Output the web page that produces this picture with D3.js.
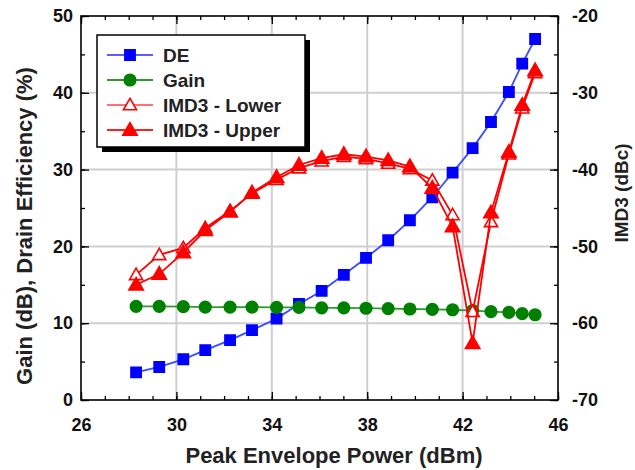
<!DOCTYPE html>
<html><head><meta charset="utf-8">
<script src="https://cdn.jsdelivr.net/npm/d3@7"></script>
<style>body{margin:0;background:#fff}svg{display:block}</style>
</head><body>
<svg id="c" width="635" height="470"></svg>
<script>
const power = [28.31, 29.28, 30.29, 31.21, 32.25, 33.17, 34.2, 35.14, 36.09, 37.02, 37.95, 38.88, 39.79, 40.73, 41.58, 42.42, 43.19, 43.94, 44.5, 45.04];
const drainEff = [3.6, 4.3, 5.3, 6.5, 7.8, 9.1, 10.6, 12.5, 14.2, 16.3, 18.5, 20.8, 23.4, 26.4, 29.6, 32.8, 36.2, 40.1, 43.8, 47.0];
const gain = [12.2, 12.2, 12.15, 12.1, 12.1, 12.1, 12.05, 12.05, 12.0, 12.0, 11.95, 11.9, 11.85, 11.8, 11.75, 11.65, 11.5, 11.4, 11.25, 11.1];
const imd3Lower = [-53.7, -51.1, -50.2, -47.6, -45.4, -43.1, -41.3, -39.8, -38.9, -38.3, -38.6, -39.2, -39.9, -41.4, -45.9, -58.5, -46.8, -38.0, -32.0, -27.4];
const imd3Upper = [-55.0, -53.6, -50.8, -47.9, -45.5, -43.0, -41.0, -39.4, -38.5, -38.0, -38.3, -38.8, -39.6, -42.4, -47.4, -62.6, -45.6, -37.7, -31.6, -27.1];
const xTicks = [26, 30, 34, 38, 42, 46];
const yLeftTicks = [0, 10, 20, 30, 40, 50];
const yRightTicks = [-20, -30, -40, -50, -60, -70];
const legendLabels = ["DE", "Gain", "IMD3 - Lower", "IMD3 - Upper"];

const svg = d3.select("#c");
const L = 81, R = 558, T = 16, B = 400;
const x = d3.scaleLinear().domain([26, 46]).range([L, R]);
const yL = d3.scaleLinear().domain([0, 50]).range([B, T]);
const yR = d3.scaleLinear().domain([-70, -20]).range([B, T]);
const font = "'Liberation Sans',Arial,sans-serif";

// gridlines
const g = svg.append("g");
g.selectAll(".gx").data(xTicks.slice(1, -1)).join("line")
  .attr("x1", d => x(d)).attr("x2", d => x(d)).attr("y1", T).attr("y2", B)
  .attr("stroke", "#cfcfcf").attr("stroke-width", 2);
g.selectAll(".gy").data(yLeftTicks.slice(1, -1)).join("line")
  .attr("y1", d => yL(d)).attr("y2", d => yL(d)).attr("x1", L).attr("x2", R)
  .attr("stroke", "#cfcfcf").attr("stroke-width", 2);

// axes with inward ticks
function styleAxis(sel) {
  sel.select(".domain").remove();
  sel.selectAll("line").attr("stroke", "#000").attr("stroke-width", 1.3);
  sel.selectAll("text").attr("font-family", font).attr("font-weight", "bold").attr("font-size", 18).attr("fill", "#111");
}
const xMinor = d3.range(26, 46.01, 1);
svg.append("g").attr("transform", `translate(0,${B})`)
  .call(d3.axisBottom(x).tickValues(xMinor).tickSize(-4).tickFormat(""))
  .call(styleAxis);
svg.append("g").attr("transform", `translate(0,${B})`)
  .call(d3.axisBottom(x).tickValues(xTicks).tickSize(-8).tickPadding(18).tickFormat(d3.format("d")))
  .call(styleAxis);
svg.append("g").attr("transform", `translate(0,${T})`)
  .call(d3.axisTop(x).tickValues(xMinor).tickSize(-4).tickFormat(""))
  .call(styleAxis);
svg.append("g").attr("transform", `translate(0,${T})`)
  .call(d3.axisTop(x).tickValues(xTicks).tickSize(-8).tickFormat(""))
  .call(styleAxis);
svg.append("g").attr("transform", `translate(${L},0)`)
  .call(d3.axisLeft(yL).tickValues(d3.range(0, 50.1, 5)).tickSize(-4).tickFormat(""))
  .call(styleAxis);
svg.append("g").attr("transform", `translate(${L},0)`)
  .call(d3.axisLeft(yL).tickValues(yLeftTicks).tickSize(-8).tickPadding(8).tickFormat(d3.format("d")))
  .call(styleAxis);
svg.append("g").attr("transform", `translate(${R},0)`)
  .call(d3.axisRight(yR).tickValues(d3.range(-70, -19.9, 5)).tickSize(-4).tickFormat(""))
  .call(styleAxis);
svg.append("g").attr("transform", `translate(${R},0)`)
  .call(d3.axisRight(yR).tickValues(yRightTicks).tickSize(-8).tickPadding(14).tickFormat(d => "-" + Math.abs(d)))
  .call(styleAxis);

svg.append("rect").attr("x", L).attr("y", T).attr("width", R - L).attr("height", B - T)
  .attr("fill", "none").attr("stroke", "#000").attr("stroke-width", 1.6);

// series
const series = [
  {vals: drainEff, y: yL, color: "#0000ff", line: "#3a4cff", sym: d3.symbolSquare, size: 105, fill: "#0000ff"},
  {vals: gain, y: yL, color: "#008000", line: "#2e9a2e", sym: d3.symbolCircle, size: 105, fill: "#008000"},
  {vals: imd3Lower, y: yR, color: "#ff0000", line: "#ff0000", sym: d3.symbolTriangle, size: 75, fill: "#fff"},
  {vals: imd3Upper, y: yR, color: "#ff0000", line: "#ff0000", sym: d3.symbolTriangle, size: 90, fill: "#ff0000"}
];
const clip = svg.append("g");
series.forEach(s => {
  const pts = power.map((p, i) => [p, s.vals[i]]);
  clip.append("path").datum(pts)
    .attr("d", d3.line().x(d => x(d[0])).y(d => s.y(d[1])))
    .attr("fill", "none").attr("stroke", s.line).attr("stroke-width", 1.8);
  clip.selectAll(null).data(pts).join("path")
    .attr("transform", d => `translate(${x(d[0])},${s.y(d[1]) + (s.sym === d3.symbolTriangle ? 1 : 0)})`)
    .attr("d", d3.symbol(s.sym, s.size))
    .attr("fill", s.fill).attr("stroke", s.color).attr("stroke-width", 1.6);
});

// legend
const lg = svg.append("g");
const lx = 97, ly = 35, lw = 208, lh = 112;
lg.append("rect").attr("x", lx + 5).attr("y", ly + 5).attr("width", lw).attr("height", lh).attr("fill", "#000");
lg.append("rect").attr("x", lx).attr("y", ly).attr("width", lw).attr("height", lh).attr("fill", "#fff").attr("stroke", "#000").attr("stroke-width", 1.5);
const lineColors = ["#5560ff", "#2e9a2e", "#ff7070", "#ff2020"];
legendLabels.forEach((lab, i) => {
  const s = series[i];
  const yy = ly + 20 + i * 25;
  lg.append("line").attr("x1", 107).attr("x2", 153).attr("y1", yy).attr("y2", yy)
    .attr("stroke", lineColors[i]).attr("stroke-width", 1.8);
  lg.append("path").attr("transform", `translate(130,${yy + (s.sym === d3.symbolTriangle ? 1 : 0)})`)
    .attr("d", d3.symbol(s.sym, s.size)).attr("fill", s.fill).attr("stroke", s.color).attr("stroke-width", 1.6);
  lg.append("text").attr("x", 163).attr("y", yy + 7).text(lab)
    .attr("font-family", font).attr("font-weight", "bold").attr("font-size", 19).attr("fill", "#222");
});

// axis titles
svg.append("text").attr("x", 334).attr("y", 463).attr("text-anchor", "middle")
  .attr("font-family", font).attr("font-weight", "bold").attr("font-size", 22).attr("fill", "#222")
  .text("Peak Envelope Power (dBm)");
svg.append("text").attr("transform", "translate(32,226) rotate(-90)").attr("text-anchor", "middle")
  .attr("font-family", font).attr("font-weight", "bold").attr("font-size", 22).attr("fill", "#222")
  .text("Gain (dB), Drain Efficiency (%)");
svg.append("text").attr("transform", "translate(628,193) rotate(-90)").attr("text-anchor", "middle")
  .attr("font-family", font).attr("font-weight", "bold").attr("font-size", 19).attr("fill", "#222")
  .text("IMD3 (dBc)");
</script>
</body></html>
